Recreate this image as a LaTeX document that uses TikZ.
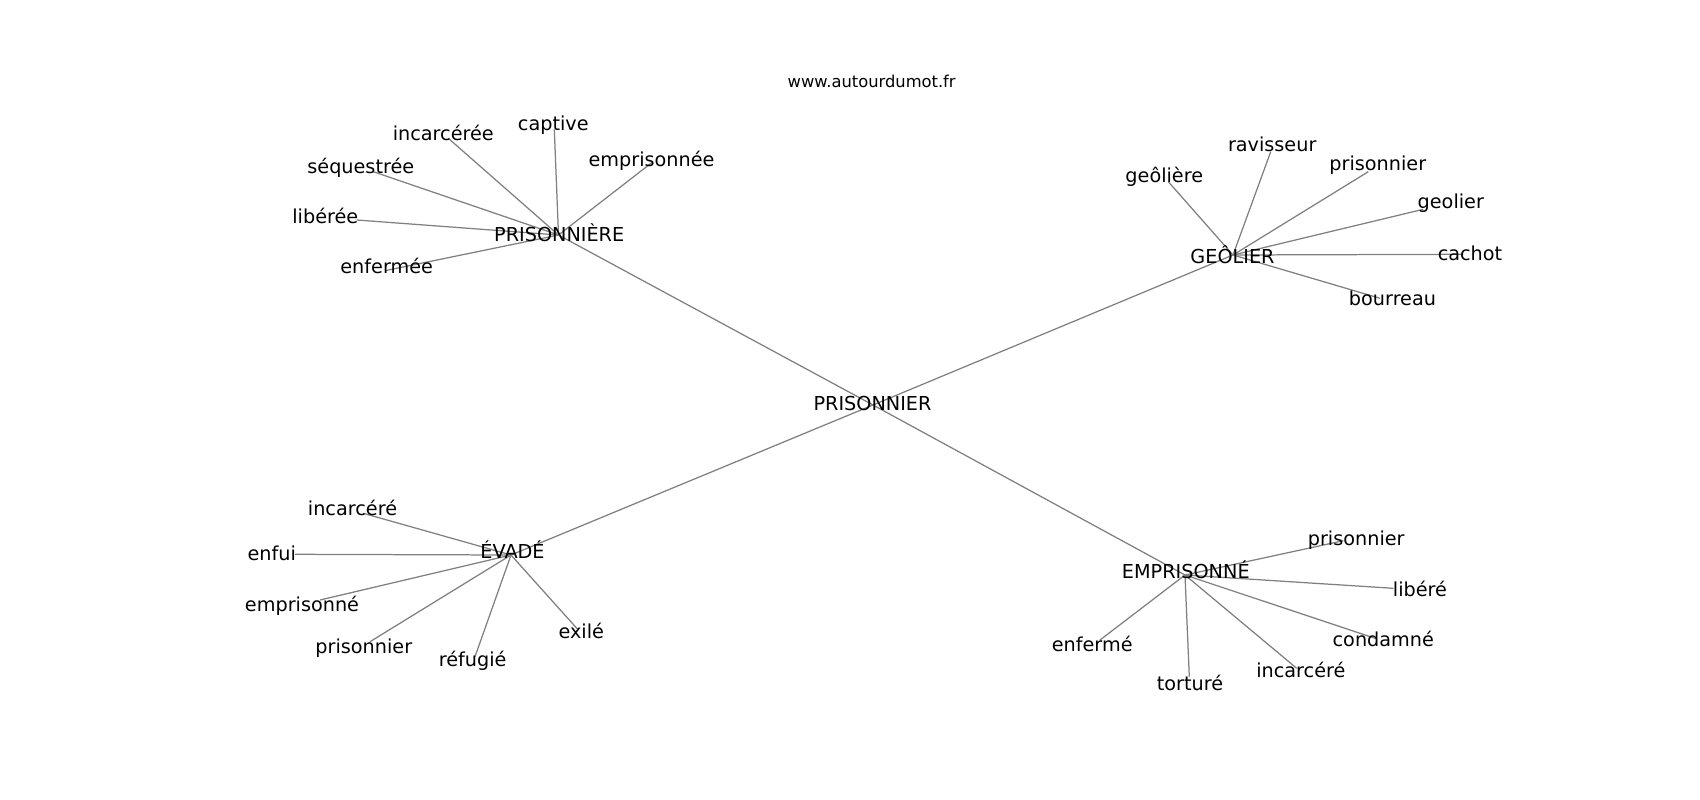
\documentclass[tikz,border=0pt]{standalone}
\usepackage{fontspec}
\setmainfont{DejaVu Sans}
\definecolor{edgegray}{HTML}{808080}
\tikzset{
  lab/.style={inner sep=0pt, anchor=base, font=\fontsize{13.9}{16}\selectfont, text=black},
  ttl/.style={inner sep=0pt, anchor=base, font=\fontsize{11.8}{14}\selectfont, text=black},
  edge/.style={draw=edgegray, line width=0.9pt}
}
\begin{document}
\begin{tikzpicture}[x=0.72bp, y=-0.72bp]
\useasboundingbox[fill=white] (0,0) rectangle (1700,800);
% hubs
\coordinate (P) at (873,405);
\coordinate (F) at (558.5,235);
\coordinate (G) at (1233,255);
\coordinate (E) at (1185,575);
\coordinate (V) at (511,555);
% leaf end points
\coordinate (f1) at (448.3,138.3);
\coordinate (f2) at (554.3,129.3);
\coordinate (f3) at (651.7,162.7);
\coordinate (f4) at (373.3,171.7);
\coordinate (f5) at (356.7,220);
\coordinate (f6) at (385,270.7);
\coordinate (g1) at (1168.3,181.7);
\coordinate (g2) at (1270.7,151.7);
\coordinate (g3) at (1368.3,171.7);
\coordinate (g4) at (1423.3,209.3);
\coordinate (g5) at (1463.3,254.3);
\coordinate (g6) at (1380,298.3);
\coordinate (e1) at (1343.3,540.7);
\coordinate (e2) at (1393.3,588.3);
\coordinate (e3) at (1375,638.3);
\coordinate (e4) at (1296.7,668.3);
\coordinate (e5) at (1189.3,676.7);
\coordinate (e6) at (1100,640);
\coordinate (v1) at (363.3,513.3);
\coordinate (v2) at (295,554.3);
\coordinate (v3) at (320,600);
\coordinate (v4) at (370,641.7);
\coordinate (v5) at (475,656.7);
\coordinate (v6) at (577.7,629.3);
% edges
\draw[edge] (P) -- (F);
\draw[edge] (P) -- (G);
\draw[edge] (P) -- (E);
\draw[edge] (P) -- (V);
\foreach \i in {1,...,6} {
  \draw[edge] (F) -- (f\i);
  \draw[edge] (G) -- (g\i);
  \draw[edge] (E) -- (e\i);
  \draw[edge] (V) -- (v\i);
}
% title
\node[ttl] (title) at (871.7,87.5) {www.autourdumot.fr};
% hub labels
\node[lab] (Pl) at (872.5,410) {PRISONNIER};
\node[lab] (Fl) at (559.2,241.7) {PRISONNIÈRE};
\node[lab] (Gl) at (1232.5,263.3) {GEÔLIER};
\node[lab] (El) at (1185.8,578.3) {EMPRISONNÉ};
\node[lab] (Vl) at (512.5,558) {ÉVADÉ};
% PRISONNIÈRE leaves
\node[lab] (f1l) at (443.3,140) {incarcérée};
\node[lab] (f2l) at (553.3,130) {captive};
\node[lab] (f3l) at (651.5,166.7) {emprisonnée};
\node[lab] (f4l) at (360.8,173.3) {séquestrée};
\node[lab] (f5l) at (325.3,223.3) {libérée};
\node[lab] (f6l) at (386.7,273.3) {enfermée};
% GEÔLIER leaves
\node[lab] (g1l) at (1164.3,182.7) {geôlière};
\node[lab] (g2l) at (1272.2,151.7) {ravisseur};
\node[lab] (g3l) at (1377.8,170.7) {prisonnier};
\node[lab] (g4l) at (1450.8,208.3) {geolier};
\node[lab] (g5l) at (1470,260) {cachot};
\node[lab] (g6l) at (1392.5,305) {bourreau};
% EMPRISONNÉ leaves
\node[lab] (e1l) at (1356.2,545) {prisonnier};
\node[lab] (e2l) at (1420,596) {libéré};
\node[lab] (e3l) at (1383.3,646) {condamné};
\node[lab] (e4l) at (1300.8,677.5) {incarcéré};
\node[lab] (e5l) at (1190,690) {torturé};
\node[lab] (e6l) at (1092.2,651.7) {enfermé};
% ÉVADÉ leaves
\node[lab] (v1l) at (352.5,515) {incarcéré};
\node[lab] (v2l) at (271.7,560) {enfui};
\node[lab] (v3l) at (302,611.7) {emprisonné};
\node[lab] (v4l) at (363.8,653.3) {prisonnier};
\node[lab] (v5l) at (472.7,666.7) {réfugié};
\node[lab] (v6l) at (581.3,638.3) {exilé};
\end{tikzpicture}
\end{document}
